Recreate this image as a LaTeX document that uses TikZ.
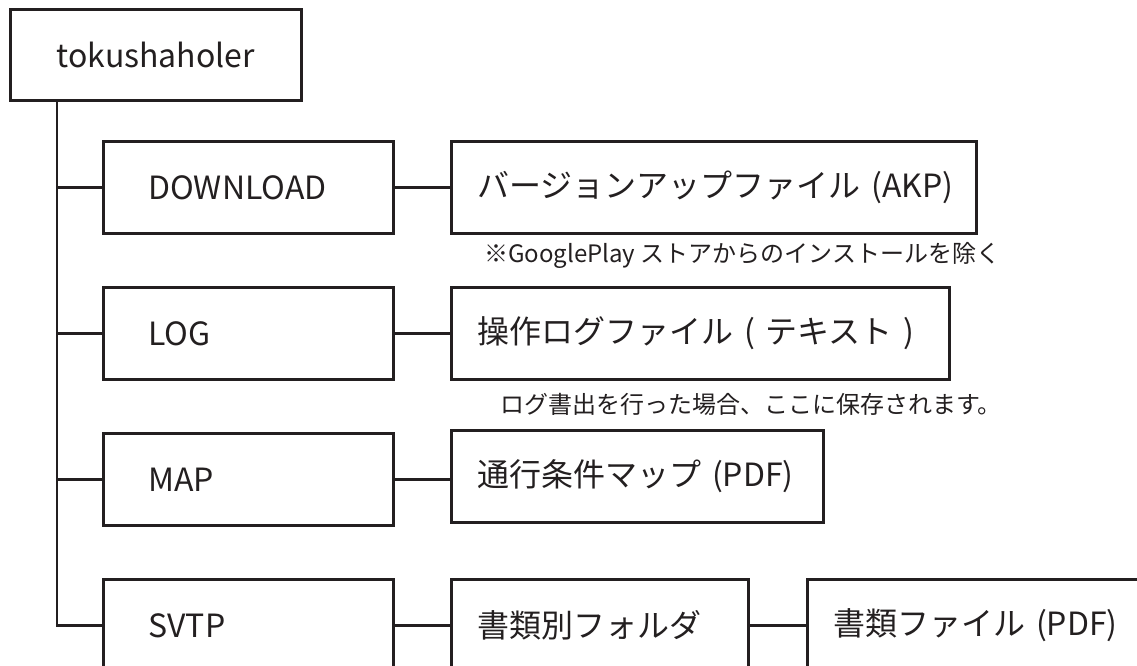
\documentclass[tikz,border=0pt]{standalone}
\usepackage{fontspec}
\setmainfont{Noto Sans CJK JP}
\definecolor{ink}{HTML}{231F20}

\tikzset{
  dirbox/.style={draw=ink, line width=2.8pt, rectangle, anchor=north west, minimum height=92pt,
    inner xsep=45pt, inner ysep=0pt, align=left, text=ink, font=\fontsize{32}{36}\selectfont},
  filebox/.style={dirbox, inner xsep=26pt},
  wire/.style={draw=ink, line width=2.8pt},
  note/.style={anchor=west, inner sep=0pt, text=ink, font=\fontsize{24}{27}\selectfont}
}

\begin{document}
\begin{tikzpicture}[x=1pt,y=1pt,yscale=-1,xscale=1]
\useasboundingbox (0,0) rectangle (1137,666);
\clip (0,0) rectangle (1137,666);

% root folder
\node [dirbox, align=center, text width=201pt, minimum height=91pt] (root) at (9,8) {tokushaholer};

% sub folders
\node [dirbox, text width=200pt] (dl) at (102,140) {DOWNLOAD};
\node [dirbox, text width=200pt] (log) at (102,286) {LOG};
\node [dirbox, text width=200pt] (map) at (102,432) {MAP};
\node [dirbox, text width=200pt] (svtp) at (102,578) {SVTP};

% contents
\node [filebox, text width=473pt] (ver) at (450,140) {\mbox{バージョンアップファイル (AKP)}};
\node [filebox, text width=446pt] (logf) at (450,286) {\mbox{操作ログファイル ( テキスト )}};
\node [filebox, text width=320pt] (mapf) at (450,429) {\mbox{通行条件マップ (PDF)}};
\node [filebox, text width=245pt] (fold) at (450,578) {書類別フォルダ};
\node [filebox, text width=348pt] (file) at (806,578) {\mbox{書類ファイル (PDF)}};

% notes
\node [note] (note1) at (484,255) {※GooglePlay ストアからのインストールを除く};
\node [note] (note2) at (500,404) {ログ書出を行った場合、ここに保存されます。};

% tree lines
\coordinate (trunk) at ([xshift=48pt]root.south west);
\draw [wire] (trunk) |- (svtp.west);
\foreach \n in {dl,log,map}
  \draw [wire] (trunk |- \n.west) -- (\n.west);

\draw [wire] (dl.east) -- (ver.west);
\draw [wire] (log.east) -- (logf.west);
\draw [wire] (map.east) -- (map.east -| mapf.west);
\draw [wire] (svtp.east) -- (fold.west);
\draw [wire] (fold.east) -- (file.west);

\end{tikzpicture}
\end{document}
